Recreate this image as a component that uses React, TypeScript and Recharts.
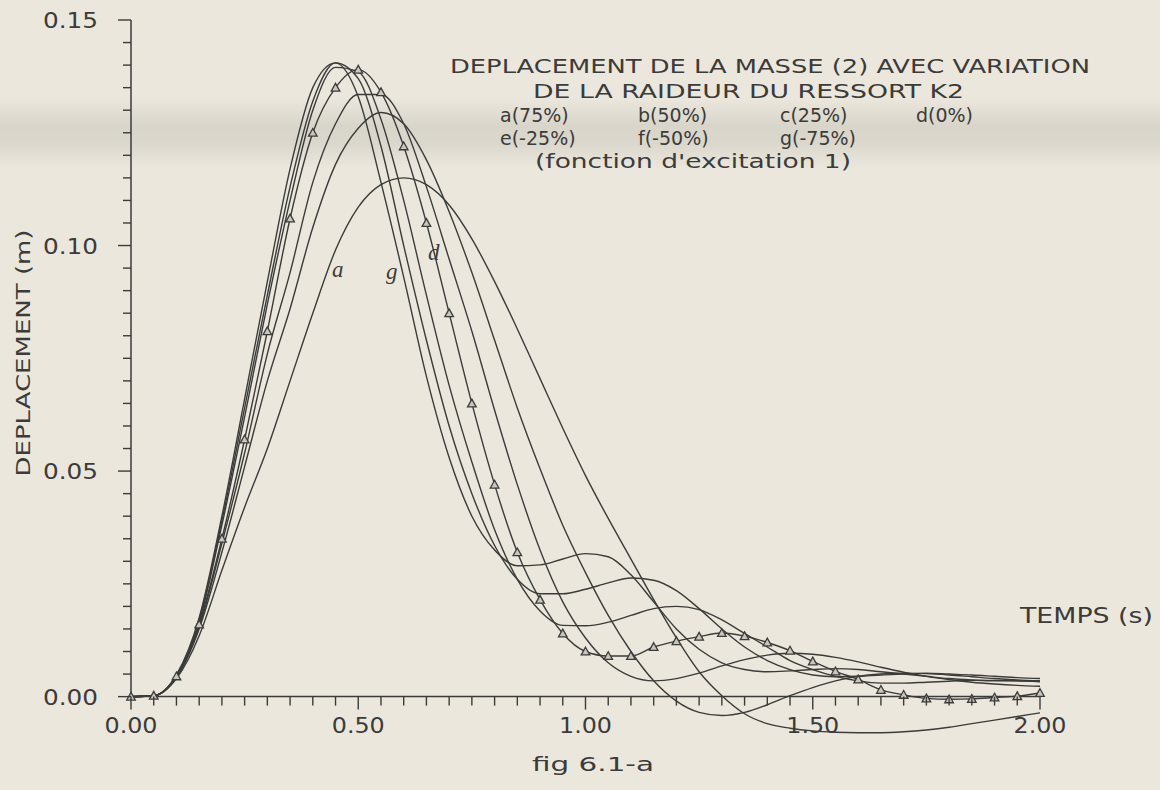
import React from "react";
import { LineChart, Line, XAxis, YAxis, ReferenceLine } from "recharts";

// temps (s), un point tous les 0.05 s
const temps = [
  0, 0.05, 0.1, 0.15, 0.2, 0.25, 0.3, 0.35, 0.4, 0.45, 0.5, 0.55, 0.6, 0.65,
  0.7, 0.75, 0.8, 0.85, 0.9, 0.95, 1.0, 1.05, 1.1, 1.15, 1.2, 1.25, 1.3, 1.35,
  1.4, 1.45, 1.5, 1.55, 1.6, 1.65, 1.7, 1.75, 1.8, 1.85, 1.9, 1.95, 2.0,
];

// deplacement de la masse 2 (m) pour chaque variation de K2
const courbeA = [
  0, 0.0002, 0.004, 0.0135, 0.028, 0.042, 0.055, 0.07, 0.085, 0.099, 0.1085,
  0.1135, 0.115, 0.1135, 0.109, 0.1015, 0.092, 0.0815, 0.0705, 0.0595, 0.049,
  0.0395, 0.0305, 0.0215, 0.013, 0.0055, 0.0002, -0.0038, -0.006, -0.007,
  -0.0076, -0.0079, -0.008, -0.008, -0.0078, -0.0074, -0.0068, -0.006, -0.0052,
  -0.0044, -0.0036,
];
const courbeB = [
  0, 0.0002, 0.0043, 0.015, 0.032, 0.051, 0.07, 0.086, 0.104, 0.118, 0.126,
  0.1295, 0.127, 0.119, 0.1075, 0.094, 0.079, 0.064, 0.0505, 0.038, 0.0275,
  0.018, 0.01, 0.0035, -0.001, -0.0035, -0.0042, -0.0035, -0.0018, 0.0002,
  0.002, 0.0035, 0.0045, 0.005, 0.0052, 0.0051, 0.0048, 0.0044, 0.004, 0.0037,
  0.0035,
];
const courbeC = [
  0, 0.0002, 0.0044, 0.0155, 0.034, 0.054, 0.076, 0.094, 0.114, 0.127, 0.1335,
  0.1335, 0.127, 0.113, 0.097, 0.081, 0.0635, 0.047, 0.0325, 0.021, 0.013,
  0.0075, 0.0045, 0.0035, 0.004, 0.0052, 0.0068, 0.0082, 0.0092, 0.0096,
  0.0094, 0.0087, 0.0077, 0.0065, 0.0054, 0.0045, 0.0038, 0.0032, 0.0028,
  0.0025, 0.0023,
];
const courbeD = [
  0, 0.0002, 0.0045, 0.016, 0.035, 0.057, 0.081, 0.106, 0.125, 0.135, 0.139,
  0.134, 0.122, 0.105, 0.085, 0.065, 0.047, 0.032, 0.0215, 0.014, 0.01, 0.009,
  0.009, 0.011, 0.0123, 0.0133, 0.0141, 0.0134, 0.012, 0.0102, 0.0078, 0.0056,
  0.0038, 0.0015, 0.0004, -0.0004, -0.0006, -0.0005, -0.0002, 0.0001, 0.0008,
];
const courbeE = [
  0, 0.0002, 0.0046, 0.0165, 0.038, 0.062, 0.087, 0.11, 0.13, 0.1395, 0.1385,
  0.128, 0.11, 0.089, 0.069, 0.052, 0.037, 0.026, 0.019, 0.0158, 0.0157,
  0.0165, 0.018, 0.0195, 0.02, 0.0193, 0.017, 0.014, 0.011, 0.008, 0.006,
  0.0045, 0.0035, 0.003, 0.003, 0.0032, 0.0034, 0.0036, 0.0036, 0.0035, 0.0033,
];
const courbeF = [
  0, 0.0002, 0.0047, 0.017, 0.039, 0.064, 0.089, 0.113, 0.132, 0.1405, 0.137,
  0.122, 0.1, 0.079, 0.06, 0.045, 0.0335, 0.026, 0.0228, 0.0228, 0.0238,
  0.0252, 0.0263, 0.0258, 0.0235, 0.0195, 0.015, 0.011, 0.008, 0.006, 0.0048,
  0.0044, 0.0045, 0.0048, 0.005, 0.0052, 0.005, 0.0048, 0.0045, 0.0042, 0.004,
];
const courbeG = [
  0, 0.0002, 0.0048, 0.0175, 0.04, 0.066, 0.092, 0.117, 0.135, 0.1405, 0.133,
  0.114, 0.093, 0.071, 0.053, 0.04, 0.0325, 0.029, 0.0292, 0.0305, 0.0317,
  0.031, 0.027, 0.021, 0.015, 0.0105, 0.0075, 0.006, 0.0055, 0.0057, 0.006,
  0.0062, 0.006, 0.0055, 0.005, 0.0045, 0.004, 0.0037, 0.0035, 0.0035, 0.0035,
];

const xTicks = [
  0, 0.05, 0.1, 0.15, 0.2, 0.25, 0.3, 0.35, 0.4, 0.45, 0.5, 0.55, 0.6, 0.65,
  0.7, 0.75, 0.8, 0.85, 0.9, 0.95, 1.0, 1.05, 1.1, 1.15, 1.2, 1.25, 1.3, 1.35,
  1.4, 1.45, 1.5, 1.55, 1.6, 1.65, 1.7, 1.75, 1.8, 1.85, 1.9, 1.95, 2.0,
];
const yTicks = [
  0, 0.005, 0.01, 0.015, 0.02, 0.025, 0.03, 0.035, 0.04, 0.045, 0.05, 0.055,
  0.06, 0.065, 0.07, 0.075, 0.08, 0.085, 0.09, 0.095, 0.1, 0.105, 0.11, 0.115,
  0.12, 0.125, 0.13, 0.135, 0.14, 0.145, 0.15,
];
const xMajor = [0, 0.5, 1.0, 1.5, 2.0];
const yMajor = [0, 0.05, 0.1, 0.15];

const titre = [
  "DEPLACEMENT DE LA MASSE (2) AVEC VARIATION",
  "DE LA RAIDEUR DU RESSORT K2",
];
const legende1 = ["a(75%)", "b(50%)", "c(25%)", "d(0%)"];
const legende2 = ["e(-25%)", "f(-50%)", "g(-75%)"];
const sousTitre = "(fonction d'excitation 1)";

const data = temps.map((t, i) => ({
  t,
  a: courbeA[i],
  b: courbeB[i],
  c: courbeC[i],
  d: courbeD[i],
  e: courbeE[i],
  f: courbeF[i],
  g: courbeG[i],
}));

const W = 1160;
const H = 790;
const MARGIN = { top: 20, right: 120, bottom: 0, left: 0 };
const Y_AXIS_W = 131;
const X_AXIS_H = 37;
const Y_MIN = -0.0125;
const Y_MAX = 0.15;
const PLOT_H = H - MARGIN.top - MARGIN.bottom - X_AXIS_H;
// the x axis sits on y = 0, not at the bottom of the plot box
const ZERO_SHIFT = (PLOT_H * (0 - Y_MIN)) / (Y_MAX - Y_MIN);

const INK = "#3b3b39";
const FONT = "'DejaVu Sans', sans-serif";

const isMajor = (v: number, majors: number[]) =>
  majors.some((m) => Math.abs(m - v) < 1e-6);

const XTick = (props: any) => {
  const { x, y, payload } = props;
  const y0 = y - ZERO_SHIFT;
  const major = isMajor(payload.value, xMajor);
  return (
    <g>
      <line x1={x} x2={x} y1={y0} y2={y0 + (major ? 13 : 9)} stroke={INK} strokeWidth={1.4} />
      {major && (
        <text
          x={x}
          y={y0 + 36}
          textAnchor="middle"
          fontFamily={FONT}
          fontSize={21}
          fill={INK}
          textLength={53}
          lengthAdjust="spacingAndGlyphs"
        >
          {payload.value.toFixed(2)}
        </text>
      )}
    </g>
  );
};

const YTick = (props: any) => {
  const { x, y, payload } = props;
  const major = isMajor(payload.value, yMajor);
  return (
    <g>
      <line x1={x - (major ? 13 : 8)} x2={x} y1={y} y2={y} stroke={INK} strokeWidth={1.4} />
      {major && (
        <text
          x={x - 33}
          y={y + 8}
          textAnchor="end"
          fontFamily={FONT}
          fontSize={21}
          fill={INK}
          textLength={55}
          lengthAdjust="spacingAndGlyphs"
        >
          {payload.value.toFixed(2)}
        </text>
      )}
    </g>
  );
};

// petit triangle creux, comme sur le trace d'origine
const Triangle = (props: any) => {
  const { cx, cy, index } = props;
  if (cx == null || cy == null) return <g key={`tri-${index}`} />;
  const s = 4.3;
  return (
    <path
      key={`tri-${index}`}
      d={`M${cx},${cy - s} L${cx + s},${cy + s * 0.8} L${cx - s},${cy + s * 0.8} Z`}
      fill="#c9c6bd"
      stroke={INK}
      strokeWidth={1.3}
    />
  );
};

const lineProps = {
  type: "monotone" as const,
  stroke: INK,
  strokeWidth: 1.4,
  dot: false,
  activeDot: false,
  isAnimationActive: false,
};

export default function App() {
  const txt = { fontFamily: FONT, fill: INK };
  return (
    <div
      style={{
        position: "absolute",
        left: 0,
        top: 0,
        width: W,
        height: H,
        background: "#ebe7dc",
        overflow: "hidden",
      }}
    >
      <div
        style={{
          position: "absolute",
          left: 0,
          top: 98,
          width: W,
          height: 70,
          background:
            "linear-gradient(to bottom, rgba(120,118,112,0) 0%, rgba(120,118,112,0.16) 40%, rgba(120,118,112,0.14) 65%, rgba(120,118,112,0) 100%)",
        }}
      />
      <div style={{ position: "absolute", left: 0, top: 0 }}>
        <LineChart width={W} height={H} data={data} margin={MARGIN}>
          <XAxis
            dataKey="t"
            type="number"
            domain={[0, 2]}
            ticks={xTicks}
            interval={0}
            tickSize={0}
            tickMargin={0}
            axisLine={false}
            tickLine={false}
            height={X_AXIS_H}
            tick={(p: any) => <XTick {...p} />}
          />
          <YAxis
            type="number"
            domain={[Y_MIN, Y_MAX]}
            ticks={yTicks}
            interval={0}
            tickSize={0}
            tickMargin={0}
            axisLine={false}
            tickLine={false}
            width={Y_AXIS_W}
            tick={(p: any) => <YTick {...p} />}
          />
          <ReferenceLine
            segment={[
              { x: 0, y: 0 },
              { x: 0, y: 0.15 },
            ]}
            stroke={INK}
            strokeWidth={1.5}
          />
          <ReferenceLine
            segment={[
              { x: 0, y: 0 },
              { x: 2, y: 0 },
            ]}
            stroke={INK}
            strokeWidth={1.5}
          />
          <Line dataKey="a" {...lineProps} />
          <Line dataKey="b" {...lineProps} />
          <Line dataKey="c" {...lineProps} />
          <Line dataKey="e" {...lineProps} />
          <Line dataKey="f" {...lineProps} />
          <Line dataKey="g" {...lineProps} />
          <Line dataKey="d" {...lineProps} dot={(p: any) => <Triangle {...p} />} />
        </LineChart>
      </div>
      <svg
        width={W}
        height={H}
        style={{ position: "absolute", left: 0, top: 0, pointerEvents: "none" }}
      >
        <text x={450} y={73} {...txt} fontSize={20} textLength={640} lengthAdjust="spacingAndGlyphs">
          {titre[0]}
        </text>
        <text x={533} y={98} {...txt} fontSize={19} textLength={431} lengthAdjust="spacingAndGlyphs">
          {titre[1]}
        </text>
        {legende1.map((s, i) => (
          <text key={s} x={[500, 638, 780, 916][i]} y={122} {...txt} fontSize={19}>
            {s}
          </text>
        ))}
        {legende2.map((s, i) => (
          <text key={s} x={[500, 638, 780][i]} y={145} {...txt} fontSize={19}>
            {s}
          </text>
        ))}
        <text x={535} y={168} {...txt} fontSize={19} textLength={316} lengthAdjust="spacingAndGlyphs">
          {sousTitre}
        </text>
        <text
          x={23}
          y={353}
          {...txt}
          fontSize={20}
          textAnchor="middle"
          dominantBaseline="central"
          transform="rotate(-90 23 353)"
          textLength={247}
          lengthAdjust="spacingAndGlyphs"
        >
          DEPLACEMENT (m)
        </text>
        <text x={1020} y={623} {...txt} fontSize={21} textLength={133} lengthAdjust="spacingAndGlyphs">
          TEMPS (s)
        </text>
        <text x={532} y={771} {...txt} fontSize={20} textLength={122} lengthAdjust="spacingAndGlyphs">
          fig 6.1-a
        </text>
        <g fontFamily="'Liberation Serif', serif" fontStyle="italic" fontSize={23} fill={INK}>
          <text x={332} y={277}>a</text>
          <text x={386} y={279}>g</text>
          <text x={428} y={260}>d</text>
        </g>
      </svg>
    </div>
  );
}
